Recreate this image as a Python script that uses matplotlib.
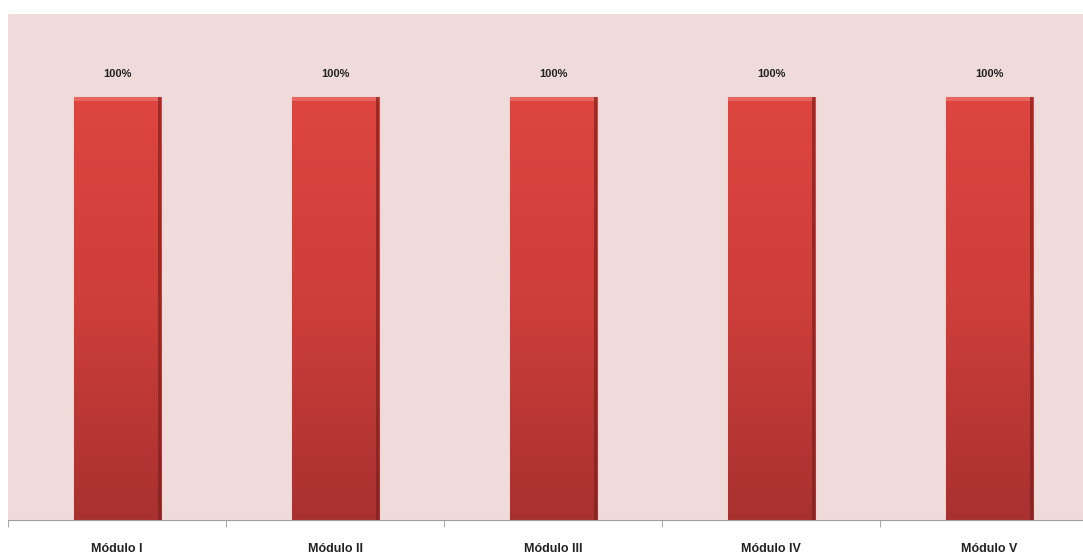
import numpy as np
import matplotlib.pyplot as plt
from matplotlib.colors import LinearSegmentedColormap
from matplotlib import font_manager

modulos = ["Módulo I", "Módulo II", "Módulo III", "Módulo IV", "Módulo V"]
percentual = [100, 100, 100, 100, 100]
rotulos = ["100%", "100%", "100%", "100%", "100%"]

names = {f.name for f in font_manager.fontManager.ttflist}
family = "Liberation Sans Narrow" if "Liberation Sans Narrow" in names else "Liberation Sans"

fig = plt.figure(figsize=(10.83, 5.56), dpi=100)
ax = fig.add_axes([0.0075, 0.065, 0.9925, 0.910])
ax.set_facecolor("#f0dbdb")

x = np.arange(len(modulos))
bars = ax.bar(x, percentual, width=0.4, color="#c93c38",
              edgecolor="#86282449", linewidth=0.9, zorder=2)

# vertical gradient inside each bar, clipped to the bar itself
cmap = LinearSegmentedColormap.from_list("barra", ["#a83130", "#cd3e3a", "#de4540"])
grad = np.linspace(0, 1, 256).reshape(-1, 1)
for b in bars:
    x0, y0 = b.get_x(), b.get_y()
    w, h = b.get_width(), b.get_height()
    im = ax.imshow(grad, cmap=cmap, origin="lower", aspect="auto",
                   extent=(x0, x0 + w, y0, y0 + h), zorder=2.5)
    im.set_clip_path(b)
    ax.bar(b.get_x() + w / 2, h * 0.01, bottom=y0 + h * 0.99, width=w,
           color="#e8665f", linewidth=0, zorder=2.6)
    # darker shading down the right side of the bar
    ax.bar(b.get_x() + w * 0.985, h, bottom=y0, width=w * 0.03,
           color="#7a2220", alpha=0.7, linewidth=0, zorder=2.7)

for xi, v, lab in zip(x, percentual, rotulos):
    ax.annotate(lab, (xi, v), xytext=(0, 13), textcoords="offset points",
                ha="center", va="bottom", fontsize=8, fontweight="bold",
                family=family, color="#222222")

ax.set_xlim(-0.5, 4.43)
ax.set_ylim(0, 1.196 * 100)
ax.set_yticks([])
ax.set_xticks(x)
ax.set_xticklabels(modulos, fontsize=9, fontweight="bold", family=family, color="#222222")
ax.tick_params(axis="x", which="major", length=0, pad=17)
ax.set_xticks(np.arange(-0.5, 4.5, 1), minor=True)
ax.tick_params(axis="x", which="minor", length=5, color="#999999", direction="out")

for side in ["top", "left", "right"]:
    ax.spines[side].set_visible(False)
ax.spines["bottom"].set_color("#a0a0a0")
ax.spines["bottom"].set_linewidth(0.8)

fig.savefig("out.png", dpi=100, facecolor="white")
